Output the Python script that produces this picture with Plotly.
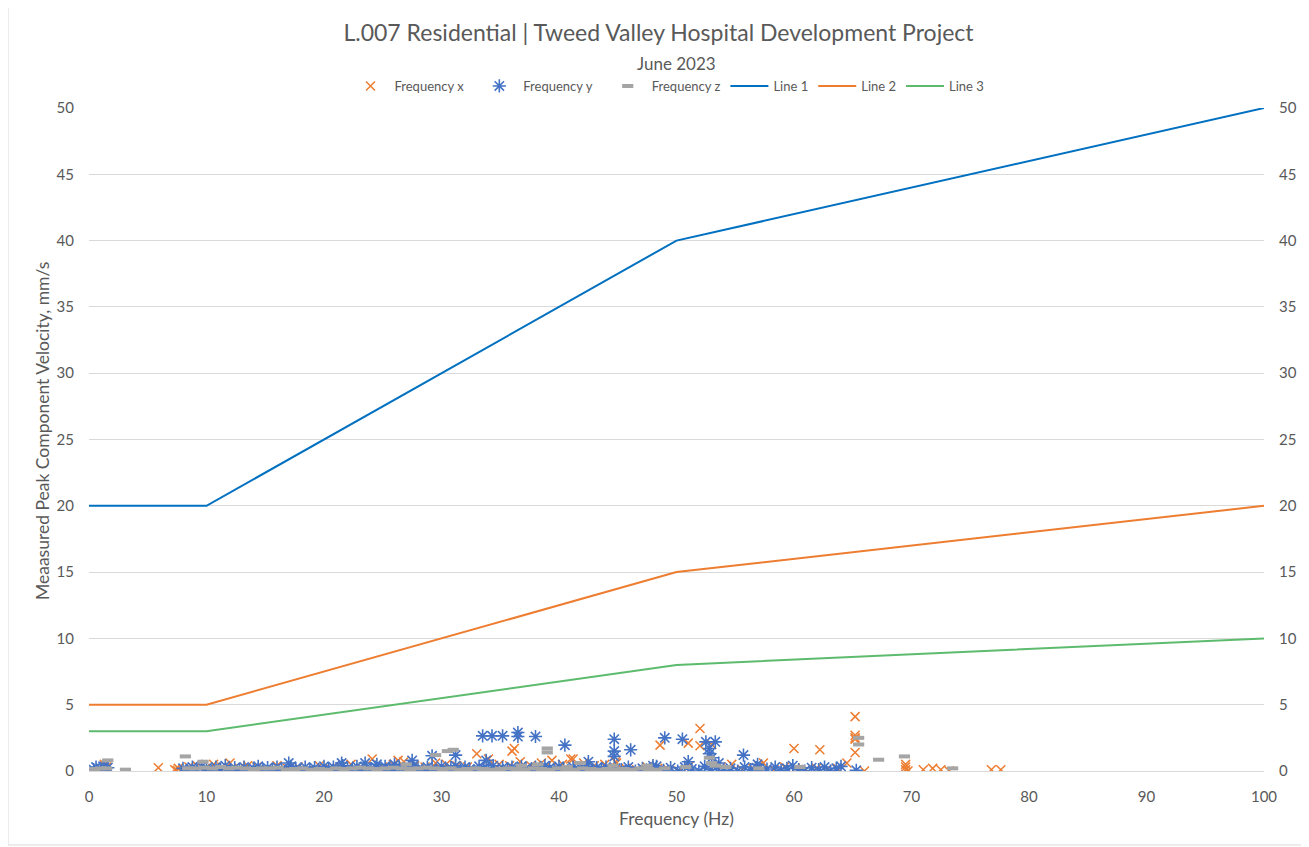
import plotly.graph_objects as go

# ---------------- data ----------------
line_x = [0, 10, 50, 100]
line1_y = [20, 20, 40, 50]
line2_y = [5, 5, 15, 20]
line3_y = [3, 3, 8, 10]

freq_x_hz = [
    1.3, 1.5, 5.9, 7.3, 7.5, 7.6, 7.8, 8.5, 9.2, 9.9,
    10.6, 11.3, 12.0, 12.8, 13.5, 14.3, 15.1, 16.0, 16.9, 17.8,
    18.7, 19.6, 20.5, 21.4, 22.3, 23.2, 24.1, 25.0, 25.9, 26.8,
    27.7, 28.6, 29.5, 30.4, 31.3, 32.2, 33.0, 34.0, 34.9, 35.8,
    36.0, 36.2, 36.7, 37.6, 38.5, 39.4, 40.3, 41.2, 42.1, 43.0,
    43.9, 44.8, 45.7, 46.6, 47.5, 48.4, 48.6, 49.3, 50.2, 51.0,
    51.1, 52.0, 52.0, 52.9, 53.0, 53.8, 54.7, 55.6, 56.5, 57.4,
    58.3, 59.2, 60.0, 60.1, 61.0, 61.9, 62.2, 62.8, 63.7, 64.5,
    65.2, 65.2, 65.2, 65.2, 65.2, 66.0, 69.5, 69.5, 69.5, 69.7,
    71.0, 71.8, 72.5, 73.2, 76.8, 77.6, 26.3, 41.0, 44.9, 57.0,
]
freq_x_vel = [
    0.5, 0.3, 0.25, 0.1, 0.05, 0.2, 0.0, 0.3, 0.4, 0.2,
    0.5, 0.3, 0.6, 0.2, 0.4, 0.3, 0.1, 0.4, 0.2, 0.3,
    0.1, 0.4, 0.2, 0.3, 0.5, 0.2, 0.9, 0.3, 0.5, 0.7,
    0.4, 0.3, 0.6, 0.5, 0.4, 0.3, 1.3, 0.9, 0.5, 0.4,
    1.5, 1.7, 0.7, 0.4, 0.6, 0.8, 0.5, 0.9, 0.6, 0.4,
    0.5, 0.7, 0.2, 0.1, 0.3, 0.2, 1.95, 0.1, 0.0, 2.1,
    0.4, 3.2, 1.9, 0.1, 2.0, 0.3, 0.5, 0.1, 0.2, 0.6,
    0.1, 0.3, 1.7, 0.2, 0.1, 0.2, 1.6, 0.1, 0.2, 0.6,
    4.1, 2.7, 2.5, 2.4, 1.4, 0.0, 0.5, 0.3, 0.1, 0.0,
    0.1, 0.2, 0.1, 0.0, 0.1, 0.1, 0.8, 0.9, 0.6, 0.4,
]

freq_y_hz = [
    0.4, 0.6, 0.8, 1.0, 1.2, 1.4, 1.6, 8.0, 8.4, 8.8,
    9.2, 9.6, 10.0, 10.4, 10.8, 11.2, 11.6, 12.0, 12.4, 12.8,
    13.2, 13.6, 14.0, 14.4, 14.8, 15.2, 15.6, 16.0, 16.4, 16.8,
    17.2, 17.6, 18.0, 18.4, 18.8, 19.2, 19.6, 20.0, 20.4, 20.8,
    21.2, 21.6, 22.0, 22.4, 22.8, 23.2, 23.6, 24.0, 24.4, 24.8,
    25.2, 25.6, 26.0, 26.4, 26.8, 27.2, 27.6, 28.0, 28.4, 28.8,
    29.2, 29.6, 30.0, 30.4, 30.8, 31.2, 31.6, 32.0, 32.4, 32.8,
    33.2, 33.6, 34.0, 34.4, 34.8, 35.2, 35.6, 36.0, 36.4, 36.8,
    37.2, 37.6, 38.0, 38.4, 38.8, 39.2, 39.6, 40.0, 40.4, 40.8,
    41.2, 41.6, 42.0, 42.4, 42.8, 43.2, 43.6, 44.0, 44.4, 44.8,
    45.3, 45.9, 46.5, 47.1, 47.7, 48.3, 48.9, 49.5, 50.1, 50.7,
    51.3, 51.9, 52.4, 52.9, 53.4, 54.0, 54.6, 55.2, 55.8, 56.3,
    56.8, 57.2, 57.7, 58.4, 58.9, 59.4, 59.9, 60.4, 60.9, 61.5,
    62.1, 62.6, 63.1, 63.6, 64.0, 65.3, 1.3, 17.0, 21.5, 23.5,
    27.5, 29.2, 31.2, 33.5, 34.3, 35.2, 36.5, 36.5, 38.0, 40.5,
    44.7, 44.7, 44.7, 46.1, 49.0, 50.5, 52.5, 53.3, 52.8, 52.8,
    53.0, 55.7, 51.0, 26.0, 24.5, 33.8, 42.5, 48.0, 53.6, 56.9,
]
freq_y_vel = [
    0.1, 0.3, 0.0, 0.2, 0.35, 0.1, 0.25, 0.2, 0.0, 0.3,
    0.1, 0.35, 0.2, 0.0, 0.3, 0.15, 0.4, 0.05, 0.25, 0.1,
    0.3, 0.0, 0.2, 0.35, 0.1, 0.25, 0.05, 0.3, 0.15, 0.0,
    0.35, 0.2, 0.05, 0.3, 0.1, 0.25, 0.0, 0.35, 0.15, 0.3,
    0.05, 0.4, 0.2, 0.1, 0.35, 0.0, 0.25, 0.15, 0.3, 0.05,
    0.35, 0.2, 0.1, 0.3, 0.0, 0.25, 0.4, 0.15, 0.05, 0.3,
    0.2, 0.0, 0.35, 0.1, 0.25, 0.4, 0.05, 0.3, 0.15, 0.0,
    0.35, 0.2, 0.1, 0.4, 0.0, 0.25, 0.15, 0.3, 0.05, 0.35,
    0.2, 0.0, 0.3, 0.1, 0.4, 0.25, 0.05, 0.35, 0.15, 0.0,
    0.3, 0.2, 0.1, 0.35, 0.0, 0.25, 0.15, 0.3, 0.05, 0.2,
    0.1, 0.3, 0.0, 0.2, 0.1, 0.35, 0.05, 0.25, 0.0, 0.3,
    0.15, 0.0, 0.35, 0.1, 0.3, 0.05, 0.2, 0.0, 0.3, 0.1,
    0.25, 0.0, 0.15, 0.3, 0.05, 0.2, 0.4, 0.1, 0.0, 0.25,
    0.1, 0.3, 0.0, 0.2, 0.35, 0.05, 0.3, 0.6, 0.6, 0.6,
    0.8, 1.15, 1.2, 2.65, 2.65, 2.65, 2.9, 2.6, 2.6, 1.95,
    2.4, 1.5, 1.1, 1.6, 2.5, 2.4, 2.2, 2.2, 1.7, 1.3,
    1.0, 1.2, 0.7, 0.5, 0.5, 0.8, 0.7, 0.4, 0.6, 0.5,
]

freq_z_hz = [
    0.5, 1.0, 1.5, 1.6, 3.1, 8.2, 8.4, 9.1, 9.7, 9.8,
    10.5, 11.2, 11.9, 12.6, 13.3, 14.0, 14.7, 15.4, 16.1, 16.8,
    17.5, 18.2, 18.9, 19.6, 20.3, 21.0, 21.7, 22.4, 23.1, 23.8,
    24.5, 25.2, 25.9, 26.6, 27.3, 28.0, 28.7, 29.4, 30.1, 30.8,
    31.5, 32.2, 32.9, 33.6, 34.3, 35.0, 35.7, 36.4, 37.1, 37.8,
    38.5, 39.2, 39.9, 40.6, 41.3, 42.0, 42.7, 43.4, 44.1, 44.8,
    45.5, 46.2, 46.9, 47.6, 48.3, 49.0, 29.5, 30.5, 31.0, 39.0,
    39.0, 40.7, 44.6, 47.5, 50.8, 52.8, 53.0, 53.3, 54.2, 57.0,
    65.5, 65.5, 67.2, 69.4, 73.5, 27.0, 36.8, 38.2, 41.8, 60.5,
]
freq_z_vel = [
    0.15, 0.2, 0.2, 0.8, 0.1, 1.1, 0.2, 0.2, 0.7, 0.25,
    0.2, 0.3, 0.2, 0.25, 0.2, 0.15, 0.2, 0.2, 0.25, 0.1,
    0.15, 0.2, 0.1, 0.15, 0.1, 0.2, 0.15, 0.2, 0.25, 0.2,
    0.15, 0.2, 0.25, 0.2, 0.15, 0.2, 0.25, 0.2, 0.15, 0.2,
    0.1, 0.15, 0.2, 0.15, 0.1, 0.15, 0.2, 0.15, 0.1, 0.2,
    0.15, 0.1, 0.2, 0.15, 0.1, 0.2, 0.15, 0.1, 0.15, 0.1,
    0.15, 0.1, 0.2, 0.15, 0.1, 0.2, 1.2, 1.5, 1.6, 1.7,
    1.4, 0.3, 0.4, 0.4, 0.3, 1.0, 0.6, 0.4, 0.3, 0.2,
    2.5, 2.0, 0.85, 1.1, 0.2, 0.5, 0.4, 0.5, 0.6, 0.3,
]

y_ticks = [0, 5, 10, 15, 20, 25, 30, 35, 40, 45, 50]
x_ticks = [0, 10, 20, 30, 40, 50, 60, 70, 80, 90, 100]

title_text = "L.007 Residential | Tweed Valley Hospital Development Project"
subtitle_text = "June 2023"
x_title = "Frequency (Hz)"
y_title = "Meaasured Peak Component Velocity, mm/s"

# ---------------- style ----------------
FONT = "Lato"
TXT = "#595959"
GRID = "#D9D9D9"
ORANGE = "#ED7D31"
BLUE_M = "#4472C4"
GREY = "#A5A5A5"

# page body has an 8px margin, so the figure is drawn 8px smaller and offset
OFF = 8
W, H = 1309 - OFF, 847 - OFF
L, T = 89 - OFF, 108 - OFF
R = W - (1264 - OFF)
B = H - (771 - OFF)
pw, ph = W - L - R, H - T - B


def px_x(p):
    return (p - OFF - L) / pw


def px_y(p):
    return (H - B - (p - OFF)) / ph


NB = "\u00a0\u00a0"

fig = go.Figure()

fig.add_trace(go.Scatter(
    x=freq_x_hz, y=freq_x_vel, mode="markers", name="Frequency x" + NB,
    marker=dict(symbol="x-thin-open", size=9, color=ORANGE,
                line=dict(color=ORANGE, width=1.5)),
))
fig.add_trace(go.Scatter(
    x=freq_y_hz, y=freq_y_vel, mode="markers", name="Frequency y" + NB,
    marker=dict(symbol="asterisk-open", size=11, color=BLUE_M,
                line=dict(color=BLUE_M, width=1.6)),
))
fig.add_trace(go.Scatter(
    x=freq_z_hz, y=freq_z_vel, mode="markers", name="Frequency z",
    marker=dict(symbol="line-ew-open", size=8, color=GREY,
                line=dict(color=GREY, width=4)),
))
fig.add_trace(go.Scatter(x=line_x, y=line1_y, mode="lines", name="Line 1",
                         line=dict(color="#0070C0", width=2)))
fig.add_trace(go.Scatter(x=line_x, y=line2_y, mode="lines", name="Line 2",
                         line=dict(color=ORANGE, width=2)))
fig.add_trace(go.Scatter(x=line_x, y=line3_y, mode="lines", name="Line 3",
                         line=dict(color="#5DBB6E", width=2)))

fig.update_layout(
    width=W, height=H,
    margin=dict(l=L, r=R, t=T, b=B),
    paper_bgcolor="white", plot_bgcolor="white",
    font=dict(family=FONT, color=TXT, size=15),
    title=dict(text=title_text, x=0.5, xanchor="center", y=1 - (33 - OFF) / H,
               yanchor="middle", font=dict(family=FONT, size=23, color=TXT)),
    showlegend=True,
    legend=dict(orientation="h", x=px_x(668), xanchor="center", y=px_y(86),
                yanchor="middle", font=dict(size=13, color=TXT),
                itemwidth=38, tracegroupgap=0, bgcolor="rgba(0,0,0,0)"),
    xaxis=dict(range=[0, 100], tickvals=x_ticks, showgrid=False, zeroline=False,
               showline=True, linecolor=GRID, linewidth=1, ticks="",
               tickfont=dict(size=15, color=TXT), ticklabelstandoff=12),
    yaxis=dict(range=[0, 50], tickvals=y_ticks, showgrid=True, gridcolor=GRID,
               gridwidth=1, zeroline=False, showline=False, ticks="",
               tickfont=dict(size=15, color=TXT), ticklabelstandoff=14),
    yaxis2=dict(range=[0, 50], tickvals=y_ticks, overlaying="y", side="right",
                showgrid=False, zeroline=False, showline=False, ticks="",
                tickfont=dict(size=15, color=TXT), ticklabelstandoff=14),
    annotations=[
        dict(text=subtitle_text, xref="paper", yref="paper", x=0.5, y=px_y(63),
             xanchor="center", yanchor="middle", showarrow=False,
             font=dict(size=17, color=TXT)),
        dict(text=x_title, xref="paper", yref="paper", x=0.5, y=px_y(818),
             xanchor="center", yanchor="middle", showarrow=False,
             font=dict(size=17.5, color=TXT)),
        dict(text=y_title, xref="paper", yref="paper", x=px_x(42), y=px_y(431),
             xanchor="center", yanchor="middle", showarrow=False, textangle=-90,
             font=dict(size=17.5, color=TXT)),
    ],
    shapes=[
        dict(type="rect", xref="paper", yref="paper",
             x0=px_x(8), x1=px_x(1305), y0=px_y(845), y1=px_y(-2),
             line=dict(color=GRID, width=1), fillcolor="rgba(0,0,0,0)", layer="below"),
    ],
)

# invisible helper so the right axis renders with the same scale
fig.add_trace(go.Scatter(x=line_x, y=line1_y, yaxis="y2", mode="lines",
                         line=dict(width=0, color="rgba(0,0,0,0)"),
                         showlegend=False, hoverinfo="skip"))

fig.write_html("out.html")
